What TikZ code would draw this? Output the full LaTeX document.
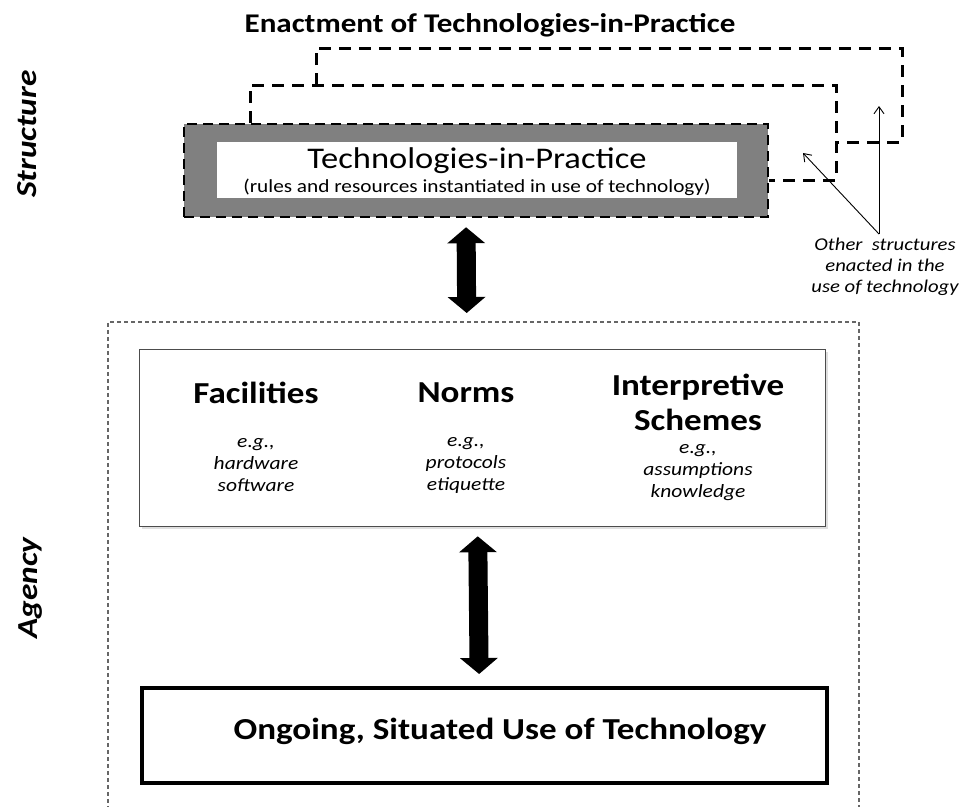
\documentclass[tikz,border=0pt]{standalone}
\usepackage{fontspec}
\setmainfont{Carlito}[FakeStretch=1.15]
\usetikzlibrary{positioning,calc,arrows.meta,shadows}

\begin{document}
\begin{tikzpicture}[
    x=1pt, y=-1pt,
    side/.style={font=\fontsize{29}{30}\selectfont\bfseries\itshape, rotate=90},
    head/.style={font=\fontsize{30.5}{35}\selectfont\bfseries, align=center},
    example/.style={font=\fontsize{18.7}{22}\selectfont\itshape, align=center},
    enact/.style={line width=3pt, dash pattern=on 12pt off 8pt},
    block/.style={{Triangle[width=37pt,length=16pt]}-{Triangle[width=37pt,length=16pt]}, line width=19pt},
    thin/.style={-{Straight Barb[length=7pt,width=10pt]}, line width=0.9pt},
    shadowed/.style={drop shadow={opacity=0.25, shadow xshift=2pt, shadow yshift=-2pt}}
]
\useasboundingbox (0,0) rectangle (966,806);

% structure side
\node[side] (structure) at (27,134) {Structure};
\node[side] (agencylabel) at (31,588) {Agency};

\node[font=\fontsize{27}{30}\selectfont\bfseries] (title) at (490,25) {Enactment of Technologies-in-Practice};

\node[draw, fill=black!50, line width=2.5pt, dash pattern=on 10pt off 6pt,
      minimum width=584pt, minimum height=93pt] (tipouter) at (476,170.5) {};
\node[fill=white, minimum width=520pt, minimum height=56pt, inner sep=0pt] (tip) at (477,170) {};
\node[font=\fontsize{30}{32}\selectfont] (tiplabel) at (477,161) {Technologies-in-Practice};
\node[font=\fontsize{18.5}{20}\selectfont] (tipnote) at (477,187) {(rules and resources instantiated in use of technology)};

% enactment loops
\coordinate (inA) at (250,85);
\coordinate (inB) at (836,180);
\coordinate (outA) at (316,48);
\coordinate (outB) at (902,142);
\draw[enact] (tipouter.north -| inA) -- (inA) -| (inB) -- (inB -| tipouter.east);
\draw[enact] (inA -| outA) -- (outA) -| (outB) -- (outB -| inB);

\coordinate (src) at (879,234);
\coordinate (upTip) at (879,106);
\coordinate (diagTip) at (803,153);
\draw[thin] (src) -- (upTip);
\draw[thin] (src) -- (diagTip);
\node[example, font=\fontsize{18}{21}\selectfont\itshape, anchor=north] (other) at (885,234)
    {Other\ \ structures\\enacted in the\\use of technology};

% agency side
\node[draw=black!60, line width=1.5pt, dash pattern=on 4pt off 3pt,
      minimum width=751pt, minimum height=520pt, anchor=north west] (agency) at (107,321) {};

\node[draw=black!70, line width=1.3pt, fill=white, shadowed,
      minimum width=686pt, minimum height=177pt, anchor=north west] (modal) at (139,349) {};
\node[head] (facilities) at (256,393) {Facilities};
\node[head] (norms) at (466,393) {Norms};
\node[head] (schemes) at (698,402) {Interpretive\\Schemes};
\node[example] (facex) at (256,465) {e.g.,\\hardware\\software};
\node[example] (normex) at (466,465) {e.g.,\\protocols\\etiquette};
\node[example] (schemex) at (698,473) {e.g.,\\assumptions\\knowledge};

\node[draw, line width=3.5pt, fill=white, shadowed,
      minimum width=685pt, minimum height=95pt, anchor=north west] (use) at (140,686) {};
\node[font=\fontsize{30.5}{35}\selectfont\bfseries] (uselabel) at (500,731) {Ongoing, Situated Use of Technology};

\draw[block, shorten <=9pt, shorten >=8pt] ([xshift=-10pt]tipouter.south) -- ([xshift=-16.5pt]agency.north);
\draw[block, shorten <=9pt, shorten >=12pt] ([xshift=-5pt]modal.south) -- ([xshift=-5pt]use.north);

\end{tikzpicture}
\end{document}
